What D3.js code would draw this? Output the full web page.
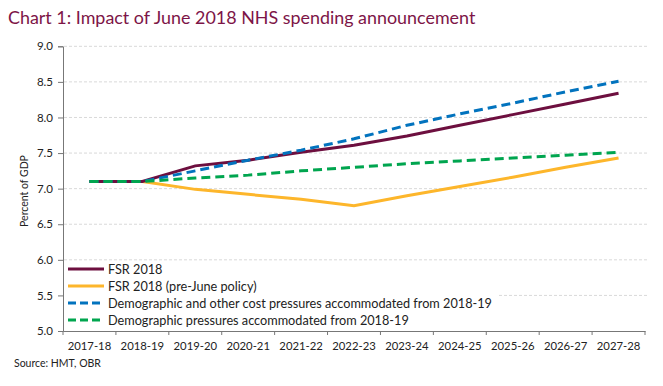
<!DOCTYPE html>
<html>
  <head>
    <meta charset="utf-8"/>
    <script src="https://cdn.jsdelivr.net/npm/d3@7"></script>
    <style type="text/css">

html, body {
  margin: 0;
  padding: 0;
  background: #fff;
}

svg text {
  font-family: Lato, "Noto Sans", sans-serif;
  fill: #222;
}

.grid line {
  stroke: #d9d9d9;
  stroke-dasharray: 3,2;
}

    </style>
  </head>
  <body>
    <svg id="chart" width="663" height="386"></svg>
    <script type="text/javascript">

var years = ["2017-18", "2018-19", "2019-20", "2020-21", "2021-22", "2022-23",
             "2023-24", "2024-25", "2025-26", "2026-27", "2027-28"];
var yTicks = [5.0, 5.5, 6.0, 6.5, 7.0, 7.5, 8.0, 8.5, 9.0];

var fsr2018 =      [7.10, 7.10, 7.32, 7.40, 7.51, 7.61, 7.74, 7.89, 8.04, 8.19, 8.34];
var preJune =      [7.10, 7.10, 6.99, 6.92, 6.85, 6.76, 6.90, 7.03, 7.16, 7.30, 7.43];
var demogOther =   [7.10, 7.10, 7.25, 7.40, 7.54, 7.70, 7.89, 8.05, 8.20, 8.36, 8.51];
var demogOnly =    [7.10, 7.10, 7.15, 7.19, 7.25, 7.30, 7.35, 7.39, 7.43, 7.47, 7.51];

var seriesNames = ["FSR 2018", "FSR 2018 (pre-June policy)",
  "Demographic and other cost pressures accommodated from 2018-19",
  "Demographic pressures accommodated from 2018-19"];
var seriesColors = ["#6d0f3f", "#fdb62b", "#0273be", "#00a54f"];
var seriesDashed = [false, false, true, true];
var seriesValues = [fsr2018, preJune, demogOther, demogOnly];

var svg = d3.select("#chart");

var x = d3.scaleBand().domain(years).range([63, 645]);
var y = d3.scaleLinear().domain([5, 9]).range([331, 46.3]);

// title
svg.append("text")
    .attr("x", 8)
    .attr("y", 24)
    .style("font-size", "17.9px")
    .style("fill", "#7d1547")
    .text("Chart 1: Impact of June 2018 NHS spending announcement");

// gridlines
svg.append("g")
    .attr("class", "grid")
    .selectAll("line")
    .data(yTicks.slice(1))
  .enter().append("line")
    .attr("x1", 64)
    .attr("x2", 648)
    .attr("y1", function(d) { return y(d); })
    .attr("y2", function(d) { return y(d); });

// y axis
var yAxis = svg.append("g")
    .attr("transform", "translate(63,0)")
    .call(d3.axisLeft(y).tickValues(yTicks).tickFormat(d3.format(".1f")).tickSizeOuter(0).tickSize(5).tickPadding(5));
yAxis.select(".domain").attr("stroke", "#777");
yAxis.selectAll(".tick line").attr("stroke", "#777");
yAxis.selectAll("text").style("font-size", "11.5px").attr("fill", "#222");

svg.append("text")
    .attr("transform", "translate(28,191) rotate(-90)")
    .attr("text-anchor", "middle")
    .style("font-size", "10.5px")
    .text("Percent of GDP");

// legend background (covers the gridlines behind it)
var legend = svg.append("g");
legend.append("rect")
    .attr("x", 64)
    .attr("y", 263)
    .attr("width", 434)
    .attr("height", 66)
    .attr("fill", "#fff");

// x axis
var xAxis = svg.append("g")
    .attr("transform", "translate(0,331)")
    .call(d3.axisBottom(x).tickSize(0).tickPadding(11));
xAxis.select(".domain").attr("stroke", "#777");
xAxis.selectAll("text").style("font-size", "11.3px").attr("fill", "#222");
xAxis.selectAll(".bound")
    .data(d3.range(years.length + 1))
  .enter().append("line")
    .attr("class", "bound")
    .attr("x1", function(i) { return x.range()[0] + i * x.step(); })
    .attr("x2", function(i) { return x.range()[0] + i * x.step(); })
    .attr("y1", 0)
    .attr("y2", 4)
    .attr("stroke", "#777");

// lines
var line = d3.line()
    .x(function(d, i) { return x(years[i]) + x.bandwidth() / 2; })
    .y(function(d) { return y(d); });

var drawOrder = [1, 0, 2, 3];
drawOrder.forEach(function(s) {
  svg.append("path")
      .datum(seriesValues[s])
      .attr("fill", "none")
      .attr("stroke", seriesColors[s])
      .attr("stroke-width", 3)
      .attr("stroke-dasharray", seriesDashed[s] ? "9,5" : null)
      .attr("d", line);
});

// legend entries
seriesNames.forEach(function(name, i) {
  var ly = 269 + i * 17;
  legend.append("line")
      .attr("x1", 68)
      .attr("x2", 104)
      .attr("y1", ly)
      .attr("y2", ly)
      .attr("stroke", seriesColors[i])
      .attr("stroke-width", 3)
      .attr("stroke-dasharray", seriesDashed[i] ? "8,4" : null);
  legend.append("text")
      .attr("x", 108)
      .attr("y", ly + 4.5)
      .style("font-size", "12.7px")
      .text(name);
});

// source
svg.append("text")
    .attr("x", 14)
    .attr("y", 367)
    .style("font-size", "10.5px")
    .text("Source: HMT, OBR");

    </script>
  </body>
</html>
